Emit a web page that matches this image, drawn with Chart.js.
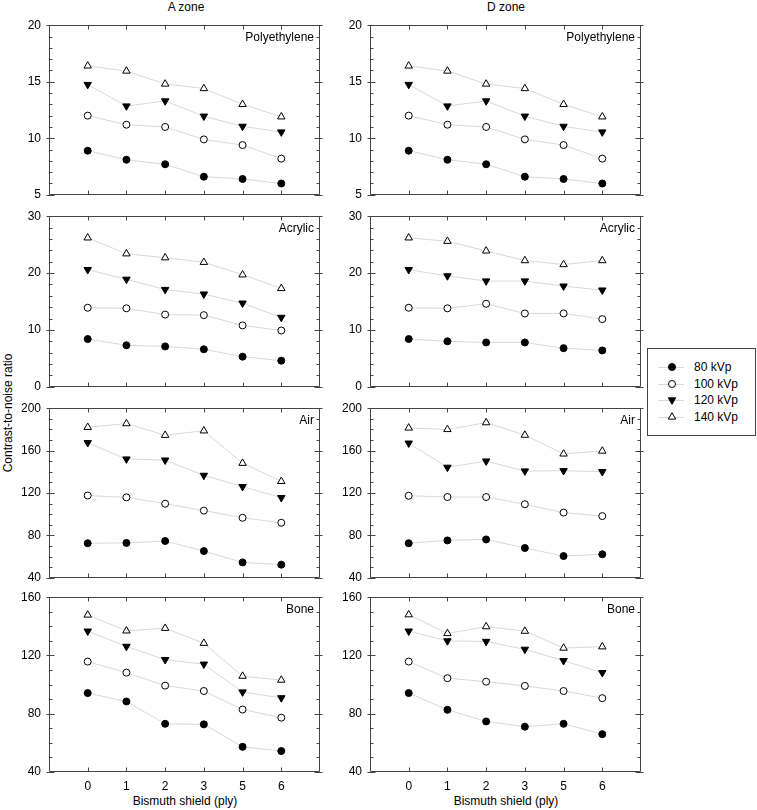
<!DOCTYPE html>
<html>
<head>
<meta charset="utf-8">
<script src="https://cdn.jsdelivr.net/npm/chart.js@4"></script>
<style>
  body { margin: 0; background: #fff; }
  #page { position: relative; width: 757px; height: 810px; font-family: "Liberation Sans", Arial, sans-serif; font-size: 12px; color: #000; }
  #page canvas { position: absolute; }
  .lbl { position: absolute; white-space: nowrap; transform: translate(-50%, -50%); }
  #legend { position: absolute; left: 647px; top: 348px; width: 107px; height: 86px; border: 1px solid #444; }
  .row { position: absolute; left: 10px; width: 95px; height: 14px; }
  .row svg { position: absolute; left: 0; top: 0; }
  .row span { position: absolute; left: 36px; top: 0; line-height: 14px; white-space: nowrap; }
</style>
</head>
<body>
<div id="page">
  <div class="lbl" style="left:186px;top:7px">A zone</div>
  <div class="lbl" style="left:506px;top:7px">D zone</div>
  <div class="lbl" style="left:8px;top:413px;transform:translate(-50%,-50%) rotate(-90deg)">Contrast-to-noise ratio</div>
  <div class="lbl" style="left:185px;top:801px">Bismuth shield (ply)</div>
  <div class="lbl" style="left:506px;top:801px">Bismuth shield (ply)</div>
  <div id="legend"></div>
</div>
<script>
var xLabels = ['0', '1', '2', '3', '5', '6']
var seriesNames = ['80 kVp', '100 kVp', '120 kVp', '140 kVp']

// rows: 80, 100, 120, 140 kVp
var polyA = [
    [8.9, 8.1, 7.7, 6.6, 6.4, 6.0],
    [12.0, 11.2, 11.0, 9.9, 9.4, 8.2],
    [14.75, 12.85, 13.3, 11.95, 11.05, 10.55],
    [16.4, 15.95, 14.8, 14.4, 13.0, 11.9]
]
var polyD = [
    [8.9, 8.1, 7.7, 6.6, 6.4, 6.0],
    [12.0, 11.2, 11.0, 9.9, 9.4, 8.2],
    [14.75, 12.85, 13.3, 11.95, 11.05, 10.55],
    [16.4, 15.95, 14.8, 14.4, 13.0, 11.9]
]
var acrA = [
    [8.4, 7.3, 7.1, 6.6, 5.3, 4.6],
    [13.9, 13.8, 12.7, 12.6, 10.8, 9.9],
    [20.6, 18.9, 17.1, 16.3, 14.7, 12.2],
    [26.2, 23.4, 22.7, 21.9, 19.7, 17.3]
]
var acrD = [
    [8.4, 8.0, 7.8, 7.8, 6.8, 6.4],
    [13.9, 13.8, 14.6, 12.9, 12.9, 11.9],
    [20.6, 19.5, 18.6, 18.6, 17.7, 17.0],
    [26.2, 25.6, 23.9, 22.2, 21.5, 22.2]
]
var airA = [
    [72.6, 72.9, 74.7, 65.2, 54.5, 52.4],
    [117.6, 115.9, 109.9, 103.4, 96.6, 91.9],
    [167.4, 152, 151, 136.6, 126, 115.6],
    [182, 185.5, 174.5, 178.7, 148.1, 131]
]
var airD = [
    [72.6, 75.3, 76.2, 68.1, 60.5, 62.2],
    [117.4, 116.2, 116.2, 109.4, 101.5, 98.2],
    [167, 144.2, 150.1, 140.7, 141, 140.1],
    [181.4, 180, 186.4, 174.6, 156.9, 159.6]
]
var boneA = [
    [94.2, 88.4, 73.1, 72.7, 57.3, 54.4],
    [115.8, 108.2, 99.3, 95.6, 82.9, 77.3],
    [136.7, 126.2, 117.1, 114, 94.9, 90.9],
    [147.8, 136.9, 138.7, 128.4, 105.8, 103.1]
]
var boneD = [
    [94.2, 82.7, 74.7, 71.1, 73.1, 66],
    [115.8, 104.4, 102, 99.1, 95.6, 90.7],
    [136.7, 130, 129.6, 124.2, 116.4, 108.2],
    [148, 135.1, 139.8, 136.7, 125.1, 126]
]

// y ranges per row of panels
var yMin = [5, 0, 40, 40]
var yMax = [20, 30, 200, 160]
var yMajor = [5, 10, 40, 40]
var yMinor = [1, 2, 10, 10]
var panelNames = ['Polyethylene', 'Acrylic', 'Air', 'Bone']

var markerStyle = [
    { shape: 'circle', fill: '#000', r: 3.5, rot: 0 },
    { shape: 'circle', fill: '#fff', r: 3.5, rot: 0 },
    { shape: 'triangle', fill: '#000', r: 4.3, rot: 180 },
    { shape: 'triangle', fill: '#fff', r: 4.3, rot: 0 }
]

var FONT = { family: '"Liberation Sans", Arial, sans-serif', size: 12 }
var panelTops = [20, 211, 403, 592]
var panelHeights = [180, 181, 180, 180]
var colLefts = [49, 370]
var plotWidth = 271
var axisW = 49

// frame + inward ticks + panel name, drawn from the chart's own scales
var framePlugin = {
    id: 'frame',
    afterDraw: function (chart, args, opts) {
        var ctx = chart.ctx
        var a = chart.chartArea
        var x = chart.scales.x
        var y = chart.scales.y
        var L = Math.round(a.left) + 0.5
        var R = Math.round(a.right) - 0.5
        var T = Math.round(a.top) + 0.5
        var B = Math.round(a.bottom) - 0.5
        ctx.save()
        ctx.strokeStyle = '#444'
        ctx.lineWidth = 1
        ctx.beginPath()
        ctx.rect(L, T, R - L, B - T)
        for (var i = 0; i < xLabels.length; i++) {
            var px = Math.round(x.getPixelForValue(i)) + 0.5
            ctx.moveTo(px, B); ctx.lineTo(px, B - 4)
            ctx.moveTo(px, T); ctx.lineTo(px, T + 4)
        }
        for (var v = opts.min; v <= opts.max + 1e-9; v += opts.minor) {
            var py = Math.round(y.getPixelForValue(v)) + 0.5
            var isMajor = Math.abs(v / opts.major - Math.round(v / opts.major)) < 1e-6
            var inLen = isMajor ? 5 : 3
            var outLen = isMajor ? 3 : 0
            ctx.moveTo(L - outLen, py); ctx.lineTo(L + inLen, py)
            ctx.moveTo(R + outLen, py); ctx.lineTo(R - inLen, py)
        }
        ctx.stroke()
        ctx.fillStyle = '#000'
        ctx.font = '12px ' + FONT.family
        ctx.textAlign = 'right'
        ctx.textBaseline = 'middle'
        ctx.fillText(opts.label, a.right - 6, a.top + 12)
        ctx.restore()
    }
}

function makePanel(col, row, values) {
    var page = document.getElementById('page')
    var isBottom = row === 3
    var padTop = 10
    var padBottom = isBottom ? 30 : 10
    var canvas = document.createElement('canvas')
    var w = axisW + plotWidth + 8
    var h = padTop + panelHeights[row] + padBottom
    canvas.width = w
    canvas.height = h
    canvas.style.left = (colLefts[col] - axisW) + 'px'
    canvas.style.top = (panelTops[row] - padTop) + 'px'
    canvas.style.width = w + 'px'
    canvas.style.height = h + 'px'
    page.appendChild(canvas)

    var datasets = values.map(function (vals, s) {
        var m = markerStyle[s]
        return {
            label: seriesNames[s],
            data: vals.map(function (v, i) { return { x: i, y: v } }),
            borderColor: '#d9d9d9',
            borderWidth: 1,
            pointStyle: m.shape,
            pointRadius: m.r,
            pointRotation: m.rot,
            pointBackgroundColor: m.fill,
            pointBorderColor: '#000',
            pointBorderWidth: 1,
            tension: 0
        }
    })

    new Chart(canvas, {
        type: 'line',
        data: { datasets: datasets },
        options: {
            responsive: false,
            animation: false,
            devicePixelRatio: 1,
            layout: { padding: { top: padTop, right: 8, bottom: 0, left: 0 } },
            plugins: {
                legend: { display: false },
                tooltip: { enabled: false },
                frame: { label: panelNames[row], min: yMin[row], max: yMax[row], major: yMajor[row], minor: yMinor[row] }
            },
            scales: {
                x: {
                    type: 'linear',
                    min: -1,
                    max: 6,
                    grid: { display: false, drawTicks: false },
                    border: { display: false },
                    ticks: {
                        display: isBottom,
                        stepSize: 1,
                        autoSkip: false,
                        maxRotation: 0,
                        padding: 7,
                        color: '#000',
                        font: FONT,
                        callback: function (v) { return xLabels[v] !== undefined ? xLabels[v] : '' }
                    },
                    afterFit: function (s) { s.height = padBottom }
                },
                y: {
                    type: 'linear',
                    min: yMin[row],
                    max: yMax[row],
                    grid: { display: false, drawTicks: false },
                    border: { display: false },
                    ticks: { stepSize: yMajor[row], padding: 8, color: '#000', font: FONT },
                    afterFit: function (s) { s.width = axisW }
                }
            }
        },
        plugins: [framePlugin]
    })
}

var aZone = [polyA, acrA, airA, boneA]
var dZone = [polyD, acrD, airD, boneD]
for (var r = 0; r < 4; r++) {
    makePanel(0, r, aZone[r])
    makePanel(1, r, dZone[r])
}

// legend
function markerSvg(m) {
    var cx = 14, cy = 7
    var shape
    if (m.shape === 'circle') {
        shape = '<circle cx="' + cx + '" cy="' + cy + '" r="' + m.r + '" fill="' + m.fill + '" stroke="#000" stroke-width="1"/>'
    } else {
        var pts = []
        for (var k = 0; k < 3; k++) {
            var ang = (m.rot + k * 120) * Math.PI / 180
            pts.push((cx + Math.sin(ang) * m.r).toFixed(2) + ',' + (cy - Math.cos(ang) * m.r).toFixed(2))
        }
        shape = '<polygon points="' + pts.join(' ') + '" fill="' + m.fill + '" stroke="#000" stroke-width="1"/>'
    }
    return '<svg width="30" height="14"><line x1="0" y1="7.5" x2="26" y2="7.5" stroke="#d9d9d9" stroke-width="1"/>' + shape + '</svg>'
}

var legend = document.getElementById('legend')
var rowCenters = [18, 34.5, 51, 68]
seriesNames.forEach(function (name, s) {
    var row = document.createElement('div')
    row.className = 'row'
    row.style.top = (rowCenters[s] - 7) + 'px'
    row.innerHTML = markerSvg(markerStyle[s]) + '<span>' + name + '</span>'
    legend.appendChild(row)
})
</script>
</body>
</html>
